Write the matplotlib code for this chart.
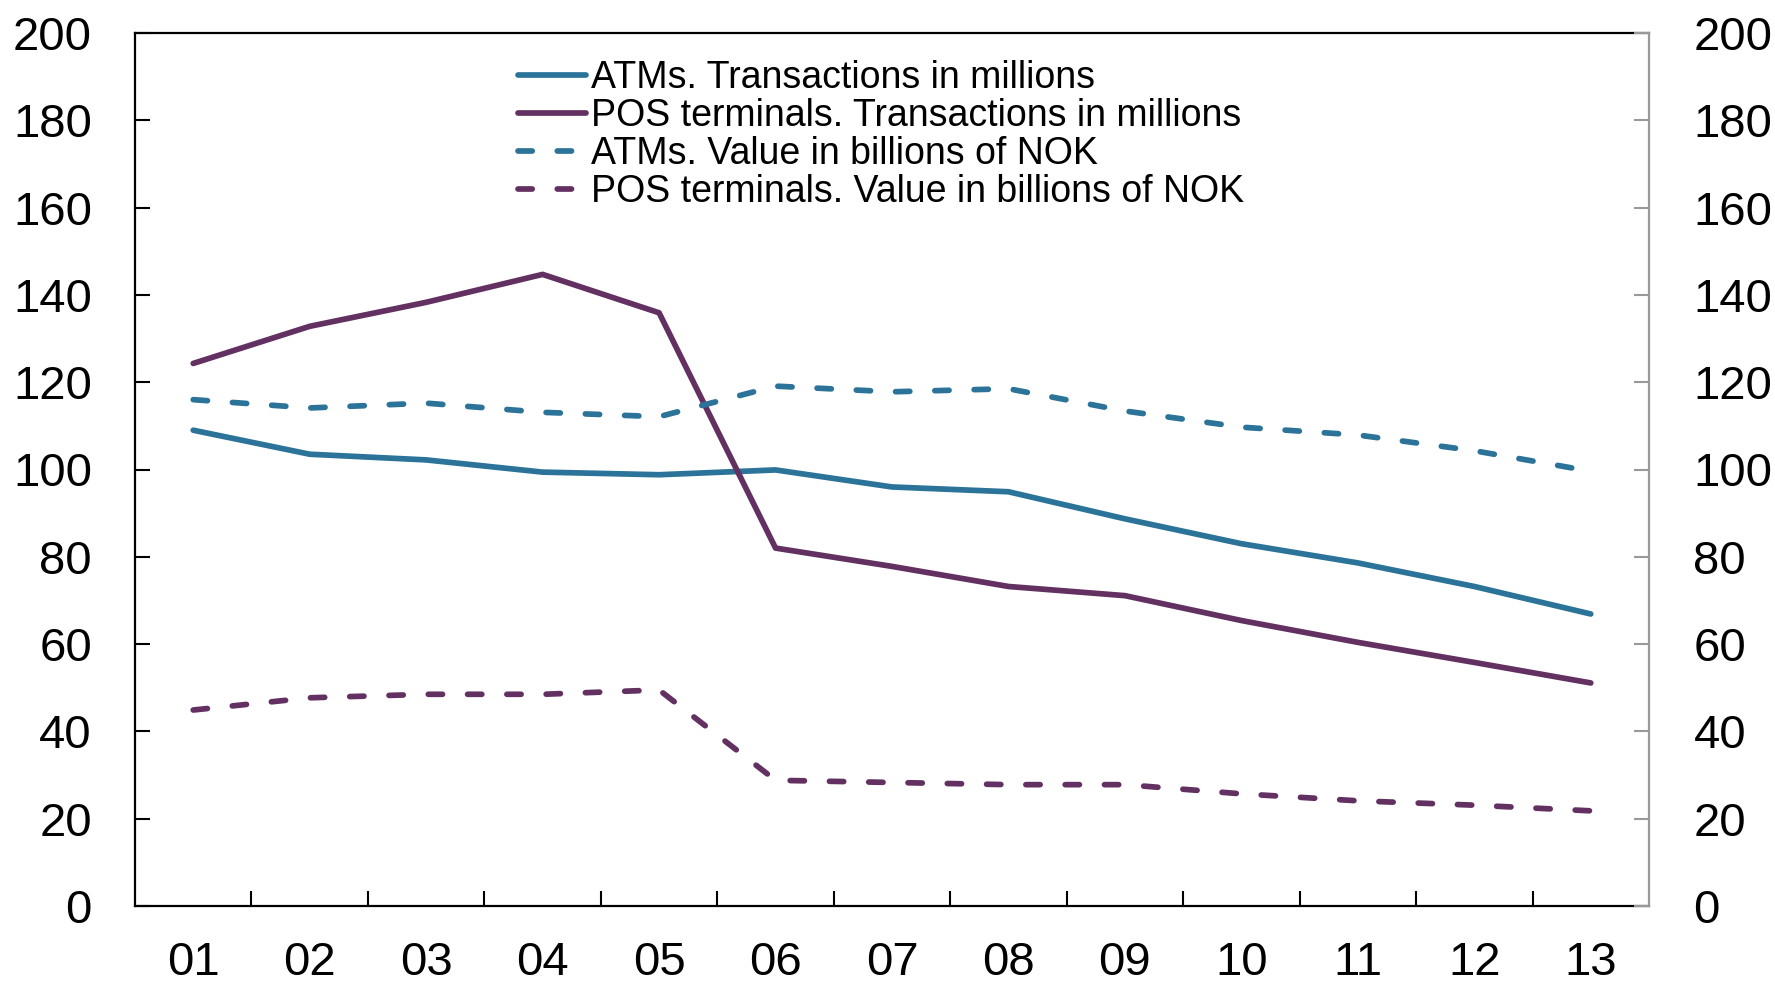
import matplotlib
matplotlib.use("Agg")
import matplotlib.pyplot as plt
import numpy as np

plt.rcParams['font.family'] = ['Liberation Sans', 'DejaVu Sans']

years = ["01", "02", "03", "04", "05", "06", "07", "08", "09", "10", "11", "12", "13"]
atm_trans = [109.0, 103.5, 102.2, 99.4, 98.8, 99.9, 96.0, 94.9, 88.7, 83.0, 78.6, 73.2, 66.9]
pos_trans = [124.3, 132.8, 138.3, 144.7, 135.9, 82.0, 77.8, 73.2, 71.1, 65.4, 60.4, 55.8, 51.1]
atm_value = [116.0, 114.1, 115.2, 113.1, 112.1, 119.1, 117.8, 118.5, 113.4, 109.7, 107.9, 104.3, 99.6]
pos_value = [44.9, 47.7, 48.5, 48.5, 49.5, 28.8, 28.3, 27.8, 27.8, 25.7, 24.1, 23.1, 21.8]
labels = ["ATMs. Transactions in millions",
          "POS terminals. Transactions in millions",
          "ATMs. Value in billions of NOK",
          "POS terminals. Value in billions of NOK"]

blue = "#2b7399"
purple = "#633062"

fig = plt.figure(figsize=(17.75, 9.82), dpi=100)
ax = fig.add_axes([135/1775, 1-906/982, (1649-135)/1775, (906-33)/982])

x = np.arange(len(years))
lw = 4.1
dash = (0, (2.5, 4.4))
common = dict(lw=lw, solid_capstyle='round', dash_capstyle='round')
ax.plot(x, atm_trans, color=blue, label=labels[0], **common)
ax.plot(x, pos_trans, color=purple, label=labels[1], **common)
ax.plot(x, atm_value, color=blue, ls=dash, label=labels[2], **common)
ax.plot(x, pos_value, color=purple, ls=dash, label=labels[3], **common)

ax.set_xlim(-0.5, len(years) - 0.5)
ax.set_ylim(0, 200)
ax.set_xticks(x)
ax.set_xticklabels(years)
ax.set_xticks(np.arange(0.5, len(years) - 1, 1.0), minor=True)
ax.tick_params(axis='x', which='major', length=0, pad=25, labelsize=34)
ax.tick_params(axis='x', which='minor', direction='in', length=11, width=1.5, color='black')
ax.set_yticks(np.arange(0, 201, 20))
ax.tick_params(axis='y', which='major', direction='in', length=11, width=1.5, pad=31, labelsize=34)

for s in ['left', 'bottom', 'top']:
    ax.spines[s].set_linewidth(1.6)
    ax.spines[s].set_color('black')
ax.spines['right'].set_visible(False)

ax2 = ax.twinx()
ax2.set_ylim(0, 200)
ax2.set_yticks(np.arange(0, 201, 20))
ax2.tick_params(axis='y', direction='in', length=11, width=1.5, color='#999999', pad=32, labelsize=34)
for s in ['left', 'bottom', 'top']:
    ax2.spines[s].set_visible(False)
ax2.spines['right'].set_color('#999999')
ax2.spines['right'].set_linewidth(1.6)

leg = ax.legend(loc='upper left', bbox_to_anchor=((518 - 135) / 1514, 1 - (60 - 33) / 873),
                frameon=False, fontsize=27, handlelength=1.8, handletextpad=0.15,
                labelspacing=0.05, borderaxespad=0, borderpad=0)

fig.savefig("out.png", dpi=100)
